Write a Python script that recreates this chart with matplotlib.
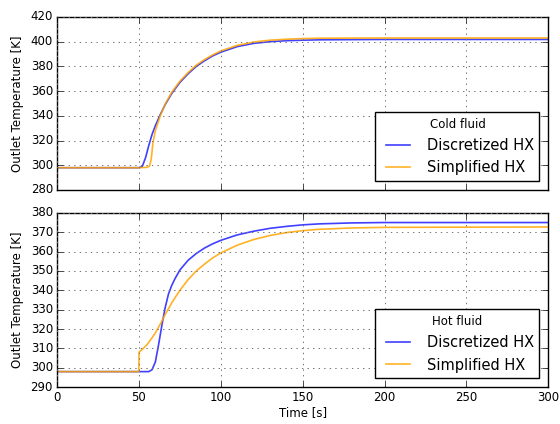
import matplotlib
matplotlib.use("Agg")
import matplotlib.pyplot as plt

# cold fluid outlet temperature [K] vs time [s]
t_cold_disc = [0, 50, 52, 54, 56, 58, 60, 63, 66, 70, 75, 80, 85, 90, 95, 100, 110, 120, 130, 140, 150, 160, 200, 300]
T_cold_disc = [298, 298, 299, 306, 316, 325, 332, 341, 349, 358, 367, 374, 380, 384.5, 388.5, 391.5, 396, 398.6,
               400, 400.8, 401.2, 401.5, 401.8, 401.8]
t_cold_simp = [0, 50, 55, 56.5, 57.5, 58.5, 60, 63, 66, 70, 75, 80, 85, 90, 95, 100, 110, 120, 130, 140, 150, 160, 200, 300]
T_cold_simp = [298, 298, 298.3, 299.5, 305, 318, 328, 340, 349.5, 359, 368, 375, 381, 385.5, 389.3, 392.5, 397, 399.7,
               401.2, 402, 402.5, 402.8, 403, 403]

# hot fluid outlet temperature [K] vs time [s]
t_hot_disc = [0, 50, 56, 58, 60, 62, 64, 66, 68, 70, 72, 75, 80, 85, 90, 95, 100, 110, 120, 130, 140, 150, 160, 180, 200, 300]
T_hot_disc = [298, 298, 298, 299, 303, 312, 322, 331, 338, 342.5, 346, 350.5, 355.5, 359, 361.8, 364, 365.8, 368.6,
              370.5, 372, 373, 373.8, 374.3, 374.8, 375, 375]
t_hot_simp = [0, 49.9, 50, 52, 55, 58, 60, 63, 66, 70, 75, 80, 85, 90, 95, 100, 110, 120, 130, 140, 150, 160, 180, 200, 300]
T_hot_simp = [298, 298, 308, 309.5, 312, 315.5, 318, 322.5, 327.5, 333.5, 340, 345.5, 350, 353.5, 356.7, 359.3, 363.3,
              366.2, 368.3, 369.8, 370.8, 371.5, 372.2, 372.5, 372.7]

panels = [
    ("Cold fluid", t_cold_disc, T_cold_disc, t_cold_simp, T_cold_simp, (280, 420), 20),
    ("Hot fluid", t_hot_disc, T_hot_disc, t_hot_simp, T_hot_simp, (290, 380), 10),
]

plt.style.use("classic")
plt.rcParams["figure.facecolor"] = "white"
plt.rcParams["font.family"] = "DejaVu Sans"

fig = plt.figure(figsize=(5.6, 4.24), dpi=100)
ax_top = fig.add_axes([0.102, 0.552, 0.877, 0.408])
ax_bot = fig.add_axes([0.102, 0.087, 0.877, 0.411])

for ax, (title, t1, y1, t2, y2, ylim, step) in zip([ax_top, ax_bot], panels):
    ax.plot(t1, y1, color="blue", alpha=0.75, lw=1.2, label="Discretized HX")
    ax.plot(t2, y2, color="orange", alpha=0.85, lw=1.2, label="Simplified HX")
    ax.set_xlim(0, 300)
    ax.set_ylim(*ylim)
    ax.set_yticks(range(ylim[0], ylim[1] + 1, step))
    ax.set_xticks(range(0, 301, 50))
    ax.grid(True, color="0.45", linestyle=":", linewidth=0.7)
    ax.tick_params(labelsize=8.5, length=4, pad=3)
    ax.set_ylabel("Outlet Temperature [K]", fontsize=8.5)
    leg = ax.legend(loc="lower right", title=title, fontsize=10.5, handlelength=2.3,
                    borderaxespad=0.6, fancybox=False)
    leg.get_title().set_fontsize(8.5)
    leg.get_frame().set_edgecolor("black")

ax_top.tick_params(labelbottom=False)
ax_bot.set_xlabel("Time [s]", fontsize=8.5, labelpad=1)

fig.savefig("out.png", dpi=100)
